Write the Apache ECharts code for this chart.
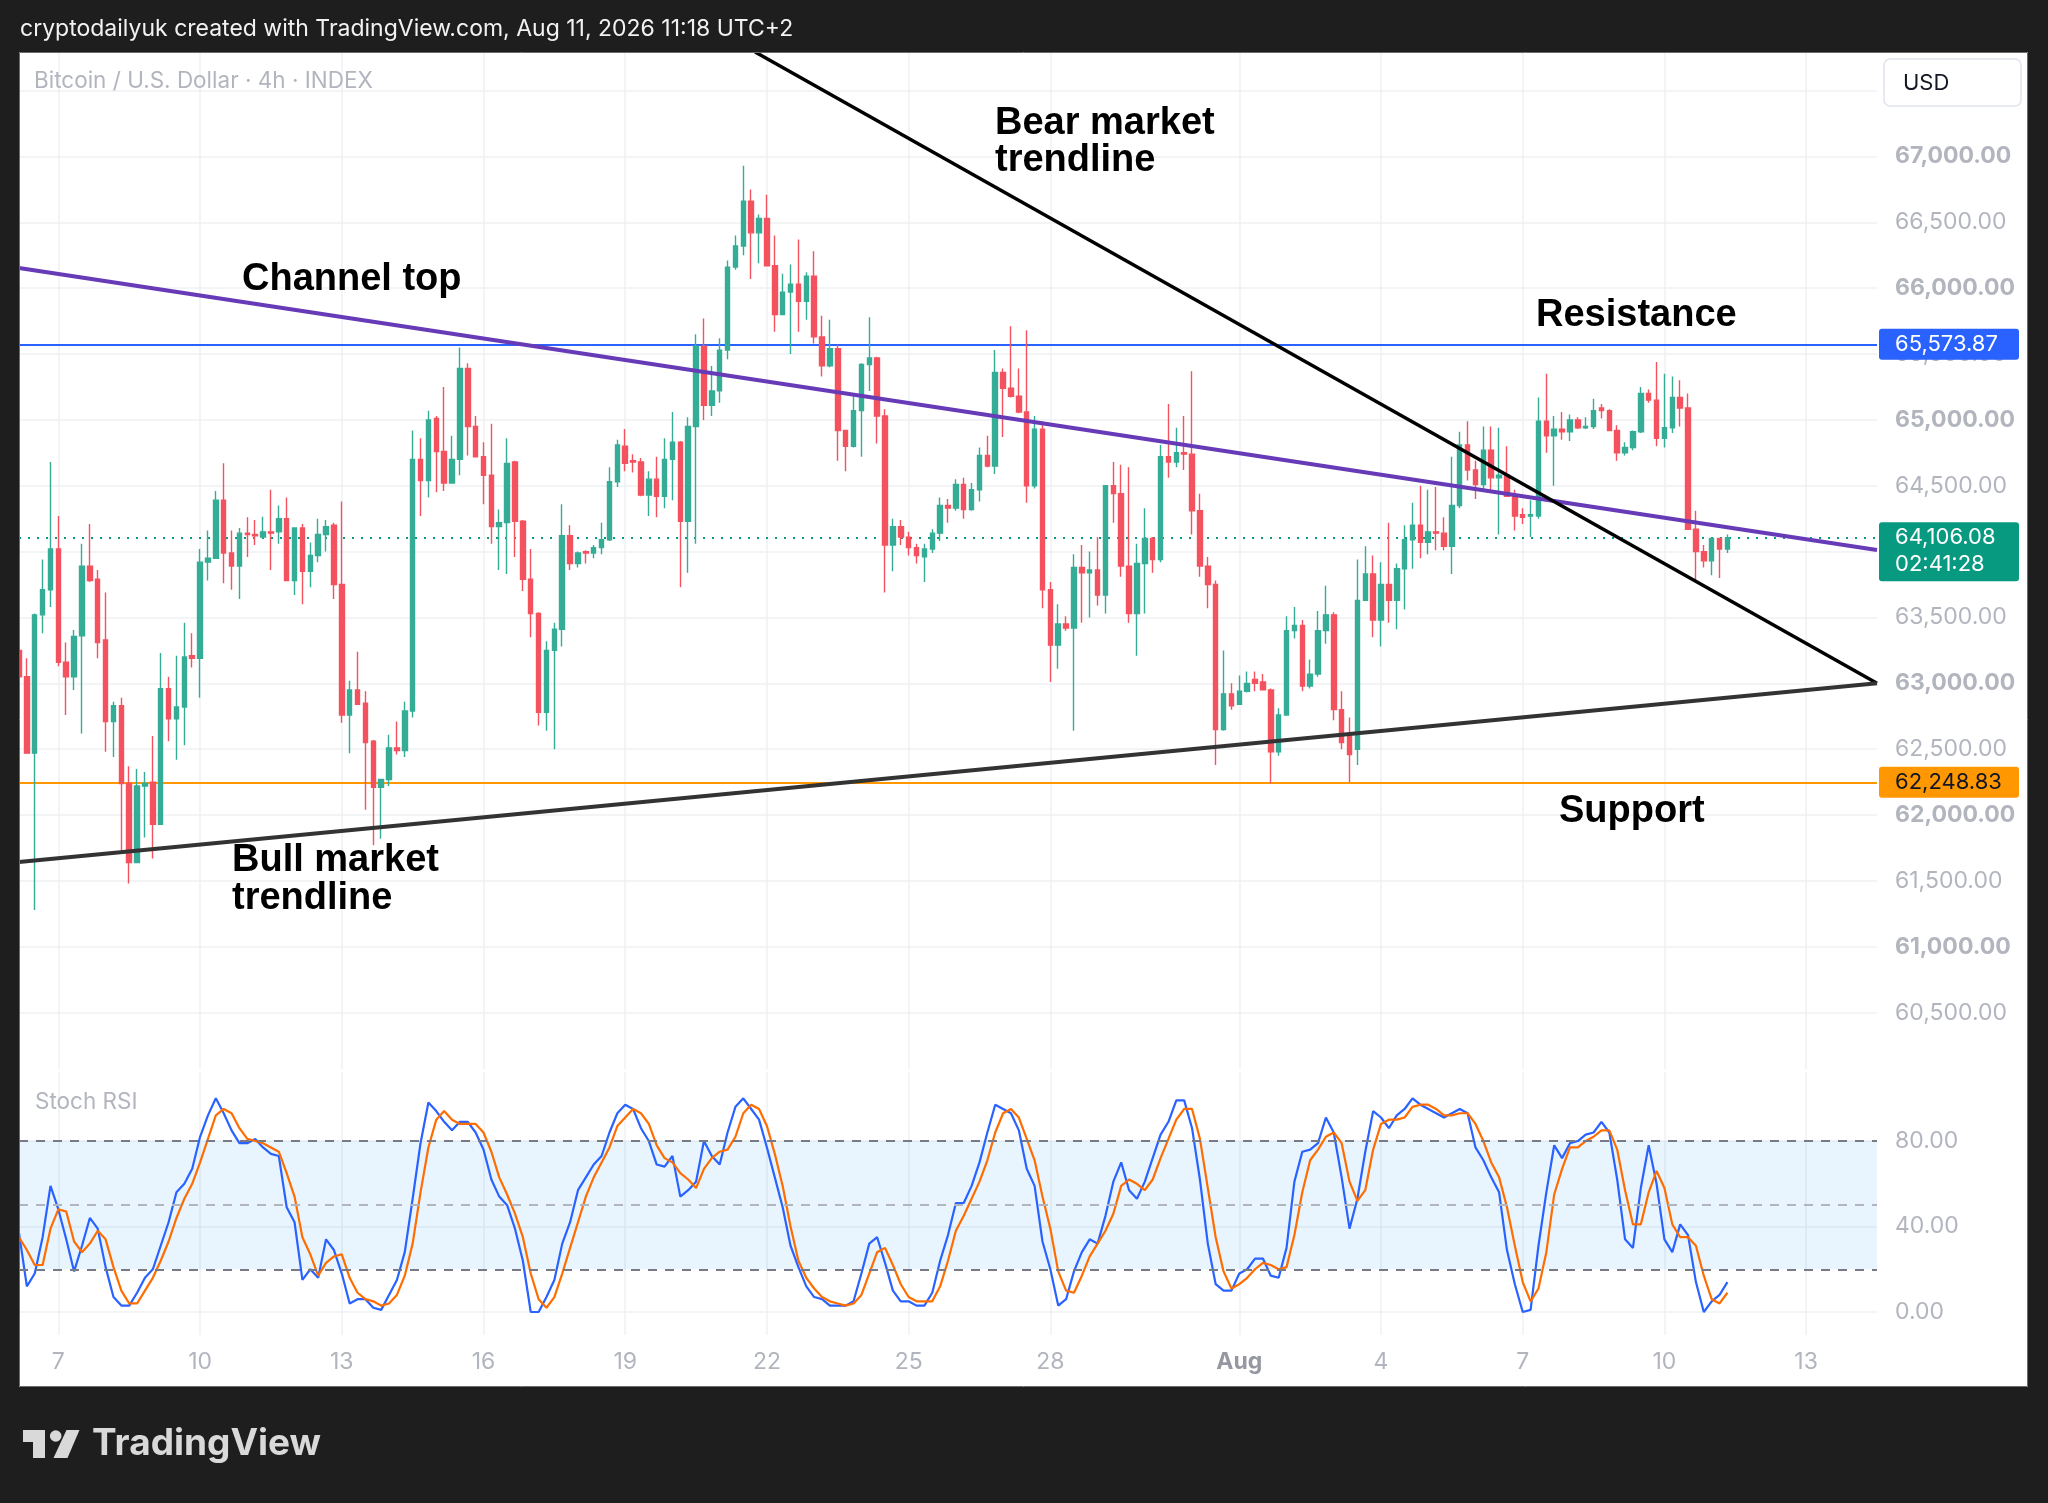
<!DOCTYPE html>
<html><head><meta charset="utf-8">
<script src="https://cdn.jsdelivr.net/npm/echarts@6.0.0/dist/echarts.min.js"></script>
<style>html,body{margin:0;padding:0;background:#1e1e1e;}#chart{width:2048px;height:1503px;}</style>
</head><body><div id="chart"></div>
<script>
// ---------- data ----------
const candles = [ // [open, high, low, close], 4h candles from Jul 6 04:00
[63250,63355,62840,63050],[63050,63190,62470,62470],[62470,63530,61280,63520],[63520,63940,63380,63710],
[63710,64680,63580,64020],[64020,64270,63130,63160],[63160,63310,62760,63050],[63050,63405,62950,63356],
[63360,64060,62620,63890],[63890,64210,63770,63780],[63790,63860,63190,63310],[63330,63690,62480,62710],
[62710,62860,62440,62830],[62830,62890,61710,62240],[62240,62370,61480,61640],[61640,62350,61640,62220],
[62220,62326,61830,62240],[62250,62600,61670,61930],[61930,63230,61930,62960],[62960,63050,62560,62730],
[62730,63210,62420,62820],[62820,63460,62530,63200],[63210,63380,63120,63190],[63190,64020,62890,63920],
[63920,64160,63780,63950],[63950,64460,63950,64390],[64390,64670,63760,63990],[63990,64160,63710,63890],
[63890,64180,63640,64140],[64140,64260,63960,64130],[64130,64240,64050,64120],[64110,64265,64100,64150],
[64150,64470,63860,64140],[64150,64350,64060,64250],[64250,64410,63780,63780],[63780,64180,63670,64180],
[64180,64210,63600,63850],[63850,64070,63730,63970],[63970,64250,63920,64130],[64130,64240,64000,64190],
[64200,64220,63640,63750],[63750,64380,62700,62760],[62760,63020,62470,62950],[62950,63240,62840,62840],
[62850,62940,62040,62550],[62560,62570,61770,62210],[62210,62270,61820,62270],[62270,62610,62220,62510],
[62510,62710,62460,62490],[62490,62860,62440,62790],[62790,64920,62740,64700],[64700,64860,64270,64540],
[64540,65070,64410,65000],[65010,65030,64450,64760],[64760,65250,64460,64520],
[64520,64880,64520,64700],[64700,65550,64580,65390],[65390,65430,64730,64950],[64950,65030,64720,64720],
[64720,64830,64360,64580],[64580,64970,64060,64190],[64190,64320,63860,64220],[64220,64860,63830,64670],
[64680,64690,63960,64230],[64230,64240,63700,63790],[63790,64020,63350,63530],[63530,63540,62680,62780],
[62780,63320,62640,63250],[63250,63460,62500,63410],[63410,64360,63280,64120],[64120,64200,63860,63910],
[63910,64000,63880,63990],[64000,64010,63910,63990],[63990,64050,63950,64030],[64030,64220,63980,64090],
[64090,64640,64080,64530],[64530,64850,64490,64810],[64800,64930,64610,64670],[64690,64740,64600,64680],
[64680,64710,64420,64430],[64430,64610,64270,64550],[64550,64720,64260,64420],[64420,64860,64330,64700],
[64700,65060,64390,64830],[64830,64840,63730,64230],[64230,65020,63840,64950],[64950,65650,64060,65560],
[65560,65770,65000,65110],[65110,65410,65030,65220],[65220,65620,65130,65530],[65530,66210,65460,66160],
[66160,66400,66140,66320],[66320,66930,66250,66660],[66660,66750,66070,66420],[66420,66560,66190,66530],
[66530,66710,66170,66170],[66170,66400,65670,65800],[65800,66110,65800,65970],[65970,66180,65500,66030],
[66030,66370,65670,65900],[65900,66120,65760,66090],[66090,66280,65580,65630],[65630,65790,65330,65410],
[65410,65760,65400,65540],[65540,65570,64690,64920],[64920,64920,64610,64800],[64800,65180,64790,65070],
[65070,65430,64720,65420],[65420,65780,65220,65470],[65470,65480,64820,65030],[65030,65080,63690,64050],
[64050,64250,63850,64190],
[64190,64240,64050,64110],[64110,64150,63970,64030],[64030,64060,63910,63970],[63960,64060,63770,64020],
[64020,64170,63990,64140],[64140,64410,64080,64350],[64350,64400,64220,64330],[64330,64550,64310,64510],
[64510,64560,64250,64320],[64320,64520,64310,64470],[64470,64790,64380,64730],[64730,64880,64640,64650],
[64650,65530,64590,65360],[65360,65390,64870,65240],[65240,65710,65170,65180],[65180,65390,65050,65060],
[65060,65680,64370,64500],[64500,65030,64480,64930],[64930,64990,63570,63710],[63710,63770,63010,63290],
[63290,63600,63110,63450],[63450,63510,63400,63420],[63420,63980,62640,63880],[63880,64050,63460,63840],
[63840,64000,63500,63860],[63860,64110,63590,63670],[63670,64500,63530,64500],[64500,64680,64220,64440],
[64440,64660,63810,63890],[63890,64640,63460,63530],[63530,64060,63210,63910],[63910,64330,63530,64100],
[64100,64110,63840,63940],[63940,64810,63920,64720],[64720,65120,64560,64680],[64680,64940,64640,64750],
[64750,65030,64620,64740],[64740,65370,64130,64310],[64310,64440,63810,63890],[63890,63960,63570,63750],
[63750,63780,62380,62650],[62650,63250,62640,62920],[62920,63000,62800,62830],[62840,63060,62840,62940],
[62940,63090,62930,63000],[63030,63090,62940,63000],[63010,63070,62950,62950],[62950,62960,62240,62480],
[62480,62810,62450,62760],[62760,63510,62760,63400],[63400,63580,63340,63440],[63440,63480,62940,62980],
[62980,63180,62960,63070],[63070,63550,63050,63400],[63400,63740,63300,63520],[63520,63540,62720,62800],
[62800,62940,62500,62550],[62600,62740,62250,62460],
[62500,63940,62380,63630],[63630,64040,63630,63830],[63830,63970,63350,63480],[63480,63920,63280,63750],
[63750,64220,63460,63630],[63630,63910,63410,63870],[63870,64200,63560,64090],[64090,64370,63870,64200],
[64200,64500,63950,64070],[64070,64470,63980,64150],[64150,64490,64010,64140],[64140,64260,64010,64040],
[64040,64720,63830,64350],[64350,64910,64330,64810],[64810,64990,64540,64620],[64620,64690,64400,64510],
[64510,64950,64470,64770],[64770,64950,64460,64560],[64560,64940,64130,64580],[64580,64800,64420,64420],
[64420,64470,64160,64270],[64280,64330,64210,64260],[64270,64390,64110,64280],[64270,65170,64250,64990],
[64990,65350,64750,64880],[64880,65030,64500,64930],[64930,65060,64850,64910],[64910,65040,64840,65000],
[65000,65020,64930,64940],[64940,65020,64930,64950],[64950,65160,64930,65070],[65090,65120,65010,65070],
[65070,65080,64920,64920],[64920,64960,64690,64750],[64750,64830,64730,64790],[64790,64920,64770,64910],
[64910,65250,64900,65200],[65200,65230,65130,65150],[65150,65440,64800,64860],[64860,65350,64790,64940],
[64940,65330,64900,65170],[65170,65300,64950,65090],[65090,65200,64170,64170],[64170,64310,63780,64000],
[64000,64050,63880,63930],[63930,64100,63820,64100],[64100,64100,63800,64020],[64020,64130,63990,64106.08]
];
const stochK = [
37,12,18,35,59,48,34,19,31,44, 39,21,7,3,3,9,16,20,31,42, 56,60,67,82,92,100,93,85,79,79,
81,77,74,73,49,42,15,20,16,34, 29,18,4,6,6,2,1,8,15,28, 53,79,98,94,89,85,89,89,84,76,
62,54,50,39,24,0,0,7,15,32, 42,57,63,69,73,84,93,
97,95,86,80,69,68,73,54,57,61, 80,73,69,84,96,100,95,90,77,63, 49,31,21,12,7,6,3,3,3,5,
18,32,35,23,10,5,5,3,3,9, 24,36,51,51,59,70,84,97,95,93, 85,67,59,33,20,3,6,19,28,34,
32,45,61,70,57,53,61,72,83,89, 99,99,86,
62,32,13,10,10,18,20,25,25,17, 16,30,61,75,76,79,91,84,63,39, 53,75,94,91,86,92,95,100,97,95,
93,91,93,95,93,77,71,63,56,29, 13,0,1,31,56,78,72,79,80,83, 84,89,84,62,34,30,58,78,60,34,
28,41,36,14,0,5,8,14
];
const stochD = [
35,29,22,22,39,48,47,33,28,32, 38,34,21,10,4,4,10,16,24,33, 44,53,60,70,81,92,95,93,86,81,
80,79,77,75,65,54,35,27,17,23, 26,27,16,9,6,5,3,4,8,17, 32,56,77,90,94,90,88,88,88,84,
75,63,55,46,35,18,6,2,7,18, 30,42,54,63,70,77,87,
91,95,93,88,78,72,70,65,62,58, 67,72,75,76,82,93,97,95,87,74, 59,40,24,16,11,7,5,4,3,4,
8,18,28,30,22,13,7,5,5,5, 12,24,38,45,53,61,71,84,93,95, 91,81,71,54,39,19,10,9,17,26,
32,38,46,59,62,60,57,62,72,81, 90,95,95,
81,58,35,19,11,13,16,20,23,22, 20,21,36,56,71,76,82,84,79,61, 52,57,76,88,90,90,91,96,97,97,
95,92,92,93,93,88,80,70,63,49, 31,14,5,11,28,55,67,77,77,80, 82,85,85,76,57,41,41,56,66,58,
41,35,35,31,17,6,4,9
];
const tickIdx    = [5,23,41,59,77,95,113,131,155,173,191,209,227];
const tickLabels = ['7','10','13','16','19','22','25','28','Aug','4','7','10','13'];
const priceTicks  = [60500,61000,61500,62000,62500,63000,63500,64000,64500,65000,65500,66000,66500,67000,67500];
const priceLabels = [60500,61000,61500,62000,62500,63000,63500,64000,64500,65000,65500,66000,66500,67000];
const rsiTicks = [0,40,80];
const resistance = 65573.87, support = 62248.83, lastPrice = 64106.08, countdown = '02:41:28';
const channelTop = [[0,66153],[236,64012]];
const bearLine   = [[93.5,67793],[236,63000]];
const bullLine   = [[0,61643],[236,63000]];

// ---------- axis categories (4h steps) ----------
const N = 237;
const t0 = Date.UTC(2026,6,6,4);
const categories = Array.from({length:N},(_,i)=>{const d=new Date(t0+i*4*3600e3);return (d.getUTCMonth()+1)+'/'+d.getUTCDate()+' '+String(d.getUTCHours()).padStart(2,'0')+':00';});

const UP='#35ad96', DOWN='#f4525f', GRID='#eef0f3', AX='#b2b5be';
const fmt = v => v.toLocaleString('en-US',{minimumFractionDigits:2,maximumFractionDigits:2});
const isTick = (i) => tickIdx.indexOf(i) >= 0;

const chart = echarts.init(document.getElementById('chart'), null, {width:2048, height:1503});
const option = {
  backgroundColor:'#ffffff',
  animation:false,
  textStyle:{fontFamily:'Inter'},
  grid:[
    {left:19, top:52, width:1858, height:1017},
    {left:19, top:1072, width:1858, height:263}
  ],
  xAxis:[
    {type:'category', gridIndex:0, data:categories, boundaryGap:false,
     axisLine:{show:false}, axisTick:{show:false}, axisLabel:{show:false},
     splitLine:{show:true, interval:(i)=>isTick(i), lineStyle:{color:GRID, width:1.5}}},
    {type:'value', gridIndex:0, min:0, max:N-1, show:false},
    {type:'category', gridIndex:1, data:categories, boundaryGap:false,
     axisLine:{show:false}, axisTick:{show:false},
     axisLabel:{interval:(i)=>isTick(i), margin:16, color:AX, fontSize:23, fontFamily:'Inter',
       formatter:(v,i)=>{const l=tickLabels[tickIdx.indexOf(i)]; return l==='Aug' ? '{b|Aug}' : l;},
       rich:{b:{fontWeight:'bold', color:'#9598a1', fontSize:23, fontFamily:'Inter'}}},
     splitLine:{show:true, interval:(i)=>isTick(i), lineStyle:{color:GRID, width:1.5}}}
  ],
  yAxis:[
    {type:'value', gridIndex:0, position:'right', min:60072, max:67793,
     axisLine:{show:false}, axisTick:{show:false, customValues:priceTicks},
     axisLabel:{customValues:priceLabels, margin:18, align:'left', color:AX, fontSize:23, fontFamily:'Inter',
       formatter:v=> (v%1000===0 ? '{b|'+fmt(v)+'}' : '{r|'+fmt(v)+'}'),
       rich:{b:{fontWeight:'bold', color:AX, fontSize:23, fontFamily:'Inter'}, r:{color:AX, fontSize:23, fontFamily:'Inter'}}},
     splitLine:{show:true, lineStyle:{color:GRID, width:1.5}}},
    {type:'value', gridIndex:1, position:'right', min:-10.76, max:112.3,
     axisLine:{show:false}, axisTick:{show:false, customValues:rsiTicks},
     axisLabel:{customValues:rsiTicks, margin:18, align:'left', color:AX, fontSize:23, fontFamily:'Inter', formatter:v=>v.toFixed(2)},
     splitLine:{show:true, lineStyle:{color:GRID, width:1.5}}}
  ],
  series:[
    {type:'candlestick', xAxisIndex:0, yAxisIndex:0, clip:false, barWidth:5, z:3,
     data:candles.map(c=>[c[0],c[3],c[2],c[1]]),
     itemStyle:{color:UP, color0:DOWN, borderColor:UP, borderColor0:DOWN, borderWidth:1.4},
     markLine:{silent:true, symbol:'none', label:{show:false}, z:2,
       data:[
         {yAxis:resistance, lineStyle:{color:'#2962ff', width:2, type:'solid'}},
         {yAxis:support, lineStyle:{color:'#ff9800', width:2, type:'solid'}},
         {yAxis:lastPrice, lineStyle:{color:'#089981', width:2, type:[2,7]}}
       ]}},
    {type:'line', name:'Channel top', xAxisIndex:1, yAxisIndex:0, data:channelTop, showSymbol:false, silent:true, z:5,
     lineStyle:{color:'#673ab7', width:4}},
    {type:'line', name:'Bear market trendline', xAxisIndex:1, yAxisIndex:0, data:bearLine, showSymbol:false, silent:true, z:5,
     lineStyle:{color:'#000000', width:3.5}},
    {type:'line', name:'Bull market trendline', xAxisIndex:1, yAxisIndex:0, data:bullLine, showSymbol:false, silent:true, z:5,
     lineStyle:{color:'#333333', width:4}},
    {type:'line', name:'%K', xAxisIndex:2, yAxisIndex:1, data:stochK, showSymbol:false, silent:true, z:4,
     lineStyle:{color:'#2962ff', width:2.2},
     markArea:{silent:true, itemStyle:{color:'rgba(33,150,243,0.1)'}, data:[[{yAxis:20},{yAxis:80}]]},
     markLine:{silent:true, symbol:'none', label:{show:false},
       data:[
         {yAxis:80, lineStyle:{color:'#787b86', width:2, type:[9,8]}},
         {yAxis:50, lineStyle:{color:'#b2b5be', width:2, type:[9,8]}},
         {yAxis:20, lineStyle:{color:'#787b86', width:2, type:[9,8]}}
       ]}},
    {type:'line', name:'%D', xAxisIndex:2, yAxisIndex:1, data:stochD, showSymbol:false, silent:true, z:4,
     lineStyle:{color:'#ff6d00', width:2.2}}
  ]
};
chart.setOption(option);

// ---------- chrome & annotations ----------
const DARK='#1e1e1e';
const annFont = 'bold 38px "Liberation Sans", Arial, sans-serif';
const ann = (id,x,y,t)=>({type:'text', id, x, y, z:60, style:{text:t, font:annFont, fill:'#000', verticalAlign:'middle'}});
function priceBox(id, price, bg, fg, lines){
  const y = chart.convertToPixel({yAxisIndex:0}, price);
  const h = lines.length===1 ? 31 : 59;
  const els=[{type:'rect', id:id+'r', z:200, shape:{x:1879, y:y-15.5, width:140, height:h, r:3}, style:{fill:bg}}];
  lines.forEach((t,k)=>els.push({type:'text', id:id+'t'+k, z:201, x:1895, y:y+k*27, style:{text:t, fill:fg, font:'22px Inter', verticalAlign:'middle'}}));
  return els;
}
const graphics = [
  {type:'rect', id:'topbar', z:300, shape:{x:0,y:0,width:2048,height:52}, style:{fill:DARK}},
  {type:'rect', id:'leftbar', z:300, shape:{x:0,y:0,width:19,height:1503}, style:{fill:DARK}},
  {type:'rect', id:'rightbar', z:300, shape:{x:2028,y:0,width:20,height:1503}, style:{fill:DARK}},
  {type:'rect', id:'botbar', z:300, shape:{x:0,y:1387,width:2048,height:116}, style:{fill:DARK}},
  {type:'rect', id:'frame', z:301, shape:{x:19.5,y:52.5,width:2008,height:1334}, style:{fill:null, stroke:'#6b6b6b', lineWidth:1}},
  {type:'text', id:'hdr', z:302, x:20, y:29, style:{text:'cryptodailyuk created with TradingView.com, Aug 11, 2026 11:18 UTC+2', fill:'#f2f2f2', font:'23px Inter', verticalAlign:'middle'}},
  {type:'text', id:'legend', z:60, x:34, y:81, style:{text:'Bitcoin / U.S. Dollar · 4h · INDEX', fill:AX, font:'22.5px Inter', verticalAlign:'middle'}},
  {type:'text', id:'stochlbl', z:60, x:35, y:1102, style:{text:'Stoch RSI', fill:AX, font:'22.5px Inter', verticalAlign:'middle'}},
  {type:'rect', id:'usdbox', z:200, shape:{x:1884,y:59,width:137,height:47,r:6}, style:{fill:'#fff', stroke:'#e0e3eb', lineWidth:1.5}},
  {type:'text', id:'usd', z:201, x:1903, y:83, style:{text:'USD', fill:'#131722', font:'22px Inter', verticalAlign:'middle'}},
  ann('a1',995,124,'Bear market'), ann('a2',995,161,'trendline'),
  ann('a3',242,280,'Channel top'),
  ann('a4',1536,316,'Resistance'),
  ann('a5',1559,812,'Support'),
  ann('a6',232,861,'Bull market'), ann('a7',232,899,'trendline'),
  ...priceBox('pb1', resistance, '#2962ff', '#ffffff', [fmt(resistance)]),
  ...priceBox('pb2', support, '#ff9800', '#131722', [fmt(support)]),
  ...priceBox('pb3', lastPrice, '#089981', '#ffffff', [fmt(lastPrice), countdown]),
  {type:'polygon', id:'tv1', z:302, shape:{points:[[23,1430],[45,1430],[45,1458],[33,1458],[33,1442],[23,1442]]}, style:{fill:'#d9d9d9'}},
  {type:'circle', id:'tv2', z:302, shape:{cx:55.7, cy:1436, r:5.8}, style:{fill:'#d9d9d9'}},
  {type:'polygon', id:'tv3', z:302, shape:{points:[[66.5,1430],[79.5,1430],[67.5,1458],[53.5,1458]]}, style:{fill:'#d9d9d9'}},
  {type:'text', id:'tv4', z:302, x:92, y:1444, style:{text:'TradingView', fill:'#d9d9d9', font:'bold 37px Inter', verticalAlign:'middle'}}
];
chart.setOption({graphic:{elements:graphics}});
</script></body></html>
